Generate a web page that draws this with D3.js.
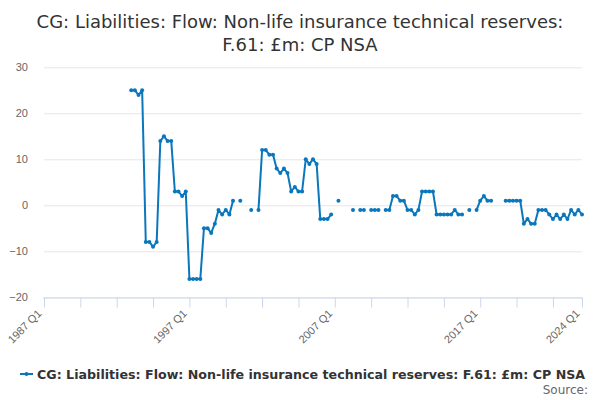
<!DOCTYPE html>
<html>
<head>
<meta charset="utf-8">
<script src="https://cdn.jsdelivr.net/npm/d3@7"></script>
<style>
    body{ margin:0; background:#fff; }
    svg{ font-family:"DejaVu Sans", sans-serif; }
</style>
</head>
<body>
<svg id="mainsvg" width="600" height="400"></svg>
<script>
// quarters from 1987 Q1 to 2024 Q1
var startYear = 1987, endYear = 2024;
var quarters = [];
for(var y = startYear; y <= endYear; y++){
    for(var q = 1; q <= 4; q++){
        if(y === endYear && q > 1) break;
        quarters.push(y + " Q" + q);
    }
}

var titleLines = ["CG: Liabilities: Flow: Non-life insurance technical reserves:",
                  "F.61: £m: CP NSA"];
var seriesName = "CG: Liabilities: Flow: Non-life insurance technical reserves: F.61: £m: CP NSA";

// £m, null where there is no value
var values = [
    null,null,null,null, null,null,null,null, null,null,null,null,   // 1987-1989
    null,null,null,null, null,null,null,null, null,null,null,null,   // 1990-1992
    25,25,24,25,   -8,-8,-9,-8,   14,15,14,14,   3,3,2,3,            // 1993-1996
    -16,-16,-16,-16, -5,-5,-6,-4, -1,-2,-1,-2,   1,null,1,null,      // 1997-2000
    null,-1,null,-1, 12,12,11,11, 8,7,8,7,       3,4,3,3,            // 2001-2004
    10,9,10,9,     -3,-3,-3,-2,   null,1,null,null, null,-1,null,-1, // 2005-2008
    -1,null,-1,-1, -1,null,-1,-1, 2,2,1,1,       -1,-1,-2,-1,        // 2009-2012
    3,3,3,3,       -2,-2,-2,-2,   -2,-1,-2,-2,   null,-1,null,-1,    // 2013-2016
    1,2,1,1,       null,null,null,1, 1,1,1,1,    -4,-3,-4,-4,        // 2017-2020
    -1,-1,-1,-2,   -3,-2,-3,-2,   -3,-1,-2,-1,   -2                  // 2021-2024 Q1
];

var yTicks = [-20, -10, 0, 10, 20, 30];
var xTickEvery = 10, xLabelEvery = 40;

var colour = "#0a77bd";
var svg = d3.select("#mainsvg");

var x = d3.scalePoint().domain(quarters).range([44, 582]);
var yScale = d3.scaleLinear().domain([-20, 30]).range([297.3, 67.3]);

// title
svg.append("text")
    .attr("x", 300)
    .attr("text-anchor", "middle")
    .style("font-size", "18px")
    .style("fill", "#333")
    .selectAll("tspan")
    .data(titleLines)
    .enter().append("tspan")
    .attr("x", 300)
    .attr("y", function(d, i){ return 28 + i * 23; })
    .text(function(d){ return d; });

// y grid + labels
var yAxis = d3.axisLeft(yScale).tickValues(yTicks).tickSize(-538).tickPadding(16);
var gy = svg.append("g").attr("transform", "translate(44,0)").call(yAxis);
gy.select(".domain").remove();
gy.selectAll("line").attr("stroke", "#e6e6e6");
gy.selectAll("text").style("font-size", "11px").style("fill", "#666").attr("font-family", null);

// x axis
var tickQ = quarters.filter(function(d, i){ return i % xTickEvery === 0 || i === quarters.length - 1; });
var xAxis = d3.axisBottom(x).tickValues(tickQ).tickSize(10)
    .tickFormat(function(d){
        var i = quarters.indexOf(d);
        return (i % xLabelEvery === 0 || i === quarters.length - 1) ? d : "";
    });
var gx = svg.append("g").attr("transform", "translate(0,297.5)").call(xAxis);
gx.select(".domain").attr("stroke", "#ccd6eb").attr("d", "M43,0.5H582.5");
gx.selectAll("line").attr("stroke", "#ccd6eb");
gx.selectAll("text")
    .attr("font-family", null)
    .style("font-size", "11px")
    .style("fill", "#666")
    .attr("text-anchor", "end")
    .attr("y", 0).attr("dy", "0.35em")
    .attr("transform", "translate(-5,14) rotate(-45)");

// series line, breaks at nulls
var pts = quarters.map(function(d, i){ return {q:d, v:values[i]}; });
var line = d3.line()
    .defined(function(d){ return d.v !== null; })
    .x(function(d){ return x(d.q); })
    .y(function(d){ return yScale(d.v); });

svg.append("path")
    .datum(pts)
    .attr("d", line)
    .attr("fill", "none")
    .attr("stroke", colour)
    .attr("stroke-width", 2)
    .attr("stroke-linejoin", "round");

svg.append("g").selectAll("circle")
    .data(pts.filter(function(d){ return d.v !== null; }))
    .enter().append("circle")
    .attr("cx", function(d){ return x(d.q); })
    .attr("cy", function(d){ return yScale(d.v); })
    .attr("r", 2)
    .attr("fill", colour);

// legend
var legend = svg.append("g").attr("transform", "translate(20,374)");
legend.append("line").attr("x1", 0).attr("x2", 13).attr("y1", 0).attr("y2", 0)
    .attr("stroke", colour).attr("stroke-width", 2);
legend.append("circle").attr("cx", 6.5).attr("cy", 0).attr("r", 2).attr("fill", colour);
legend.append("text").attr("x", 17).attr("y", 4.5)
    .style("font-size", "12.65px").style("font-weight", "bold").style("fill", "#333")
    .text(seriesName);

svg.append("text").attr("x", 588).attr("y", 394).attr("text-anchor", "end")
    .style("font-size", "12px").style("fill", "#666")
    .text("Source:");
</script>
</body>
</html>
